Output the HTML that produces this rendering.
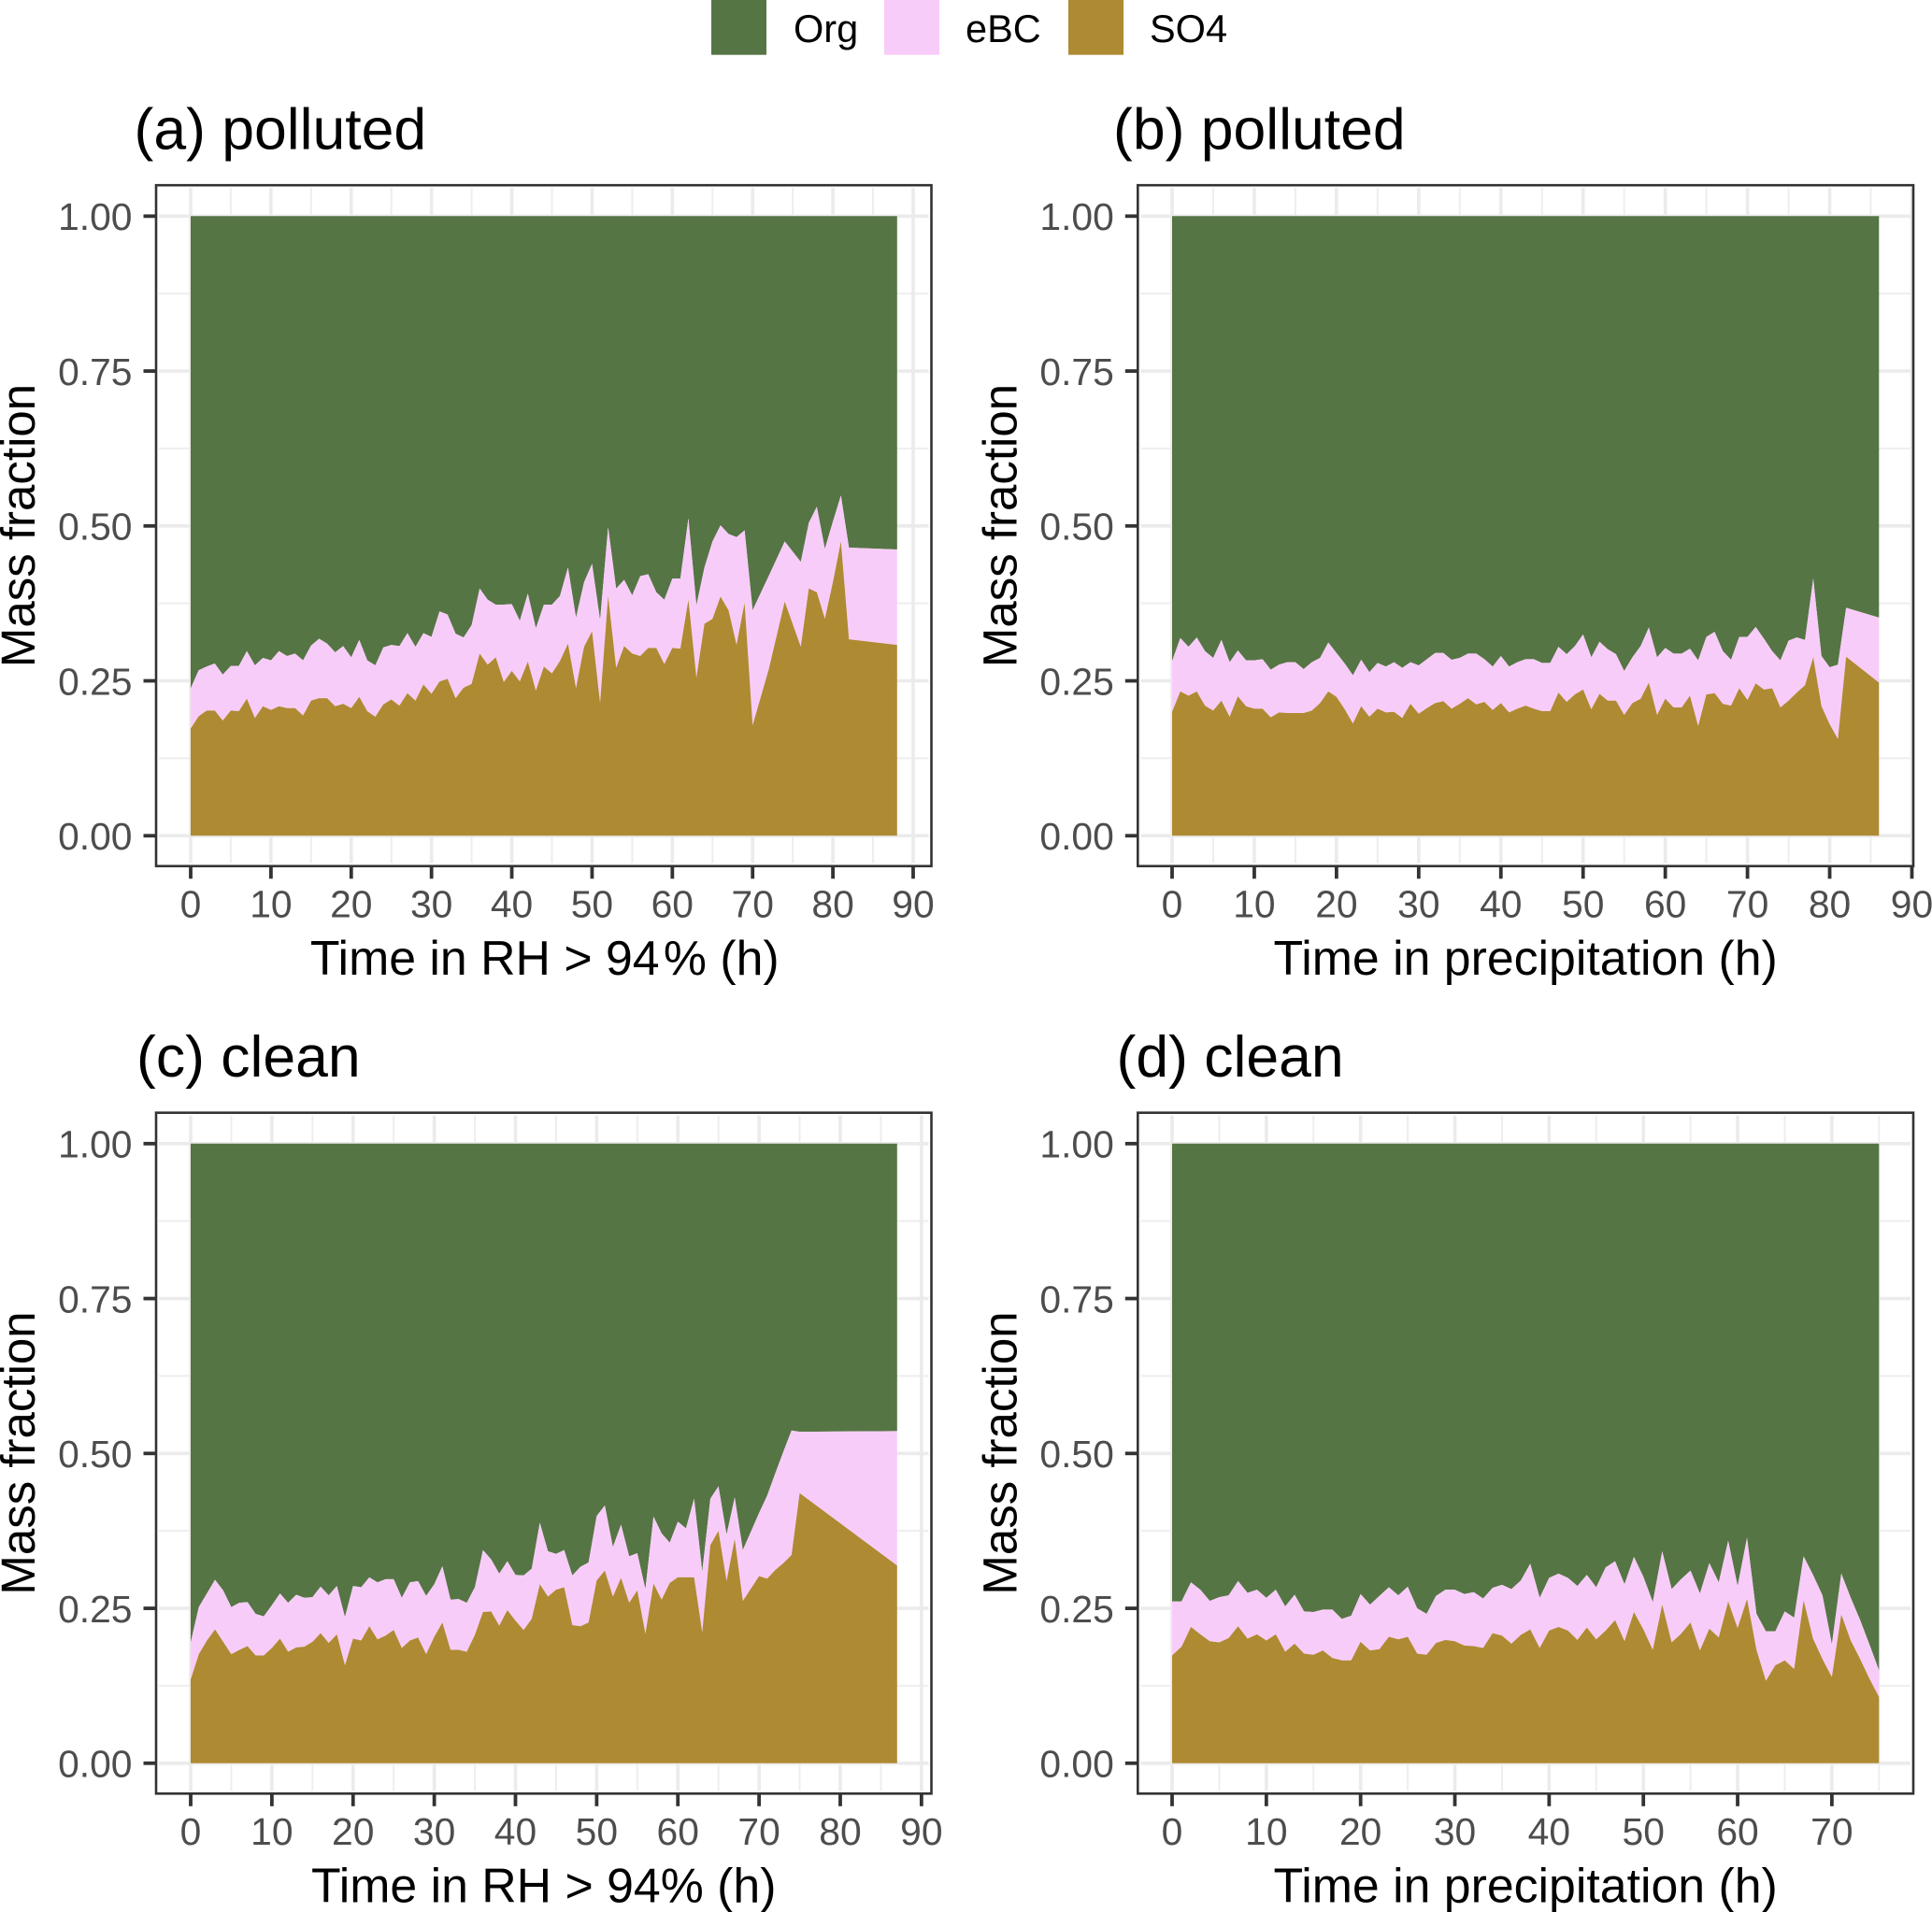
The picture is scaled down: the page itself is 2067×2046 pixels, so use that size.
<!DOCTYPE html>
<html>
<head>
<meta charset="utf-8">
<title>Mass fraction panels</title>
<style>
html,body{margin:0;padding:0;background:#fff;}
svg{display:block;}
text{font-family:"Liberation Sans",Arial,sans-serif;}
</style>
</head>
<body>
<svg id="chart" xmlns="http://www.w3.org/2000/svg" width="2067" height="2046" viewBox="0 0 2067 2046"></svg>
<script>
const yTickValues = [0, 0.25, 0.5, 0.75, 1];
const yTickLabels = ['0.00', '0.25', '0.50', '0.75', '1.00'];
const speciesNames = ['Org', 'eBC', 'SO4'];

const hoursA = [0,1,2,3,4,5,6,7,8,9,10,11,12,13,14,15,16,17,18,19,20,21,22,23,24,25,26,27,28,29,30,31,32,33,34,35,36,37,38,39,40,41,42,43,44,45,46,47,48,49,50,51,52,53,54,55,56,57,58,59,60,61,62,63,64,65,66,67,68,69,70,72,74,76,77,78,79,80,81,82,88];
const so4A = [.173,.193,.202,.202,.186,.202,.201,.221,.190,.209,.203,.209,.206,.206,.194,.218,.222,.222,.209,.213,.206,.224,.201,.192,.212,.220,.210,.230,.218,.244,.229,.249,.253,.222,.239,.245,.294,.276,.288,.248,.266,.249,.281,.234,.273,.262,.282,.310,.238,.305,.330,.214,.387,.271,.306,.294,.290,.303,.303,.277,.303,.302,.381,.255,.342,.350,.386,.364,.308,.376,.178,.268,.378,.305,.399,.393,.350,.409,.475,.317,.308];
const so4PlusEbcA = [.238,.267,.273,.278,.260,.274,.274,.298,.275,.287,.283,.298,.290,.294,.283,.307,.318,.310,.296,.306,.288,.316,.283,.275,.304,.308,.306,.327,.305,.327,.321,.362,.357,.326,.320,.340,.399,.381,.373,.373,.374,.347,.391,.335,.373,.373,.387,.433,.352,.409,.439,.348,.498,.399,.413,.388,.419,.422,.393,.381,.415,.415,.512,.372,.433,.475,.501,.487,.482,.493,.364,.419,.475,.442,.505,.531,.463,.507,.549,.465,.462];

const hoursB = [0,1,2,3,4,5,6,7,8,9,10,11,12,13,14,15,16,17,18,19,20,21,22,23,24,25,26,27,28,29,30,31,32,33,34,35,36,37,38,39,40,41,42,43,44,45,46,47,48,49,50,51,52,53,54,55,56,57,58,59,60,61,62,63,64,65,66,67,68,69,70,71,72,73,74,75,76,77,78,79,80,81,82,86];
const so4B = [.200,.233,.226,.233,.210,.202,.218,.192,.225,.209,.205,.205,.191,.199,.198,.198,.198,.202,.214,.233,.224,.204,.181,.209,.192,.205,.199,.200,.190,.213,.197,.206,.214,.217,.205,.213,.222,.212,.216,.203,.214,.199,.205,.210,.205,.201,.201,.231,.216,.228,.236,.204,.229,.218,.218,.195,.214,.221,.247,.195,.221,.207,.207,.226,.177,.228,.230,.213,.210,.238,.219,.246,.236,.238,.207,.218,.231,.243,.288,.209,.180,.156,.289,.247];
const so4PlusEbcB = [.282,.319,.305,.320,.298,.287,.316,.280,.299,.283,.283,.285,.268,.276,.280,.280,.269,.280,.287,.312,.295,.278,.259,.284,.264,.279,.273,.280,.271,.280,.275,.285,.295,.295,.284,.287,.294,.294,.285,.273,.290,.273,.280,.285,.285,.279,.279,.305,.293,.306,.325,.288,.313,.301,.293,.266,.288,.306,.336,.288,.303,.294,.294,.302,.283,.321,.329,.298,.284,.321,.321,.337,.318,.298,.283,.315,.320,.316,.415,.290,.272,.276,.368,.352];

const hoursC = [0,1,2,3,4,5,6,7,8,9,10,11,12,13,14,15,16,17,18,19,20,21,22,23,24,25,26,27,28,29,30,31,32,33,34,35,36,37,38,39,40,41,42,43,44,45,46,47,48,49,50,51,52,53,54,55,56,57,58,59,60,61,62,63,64,65,66,67,68,69,70,71,72,73,74,75,87];
const so4C = [.135,.176,.198,.216,.196,.176,.183,.189,.174,.174,.186,.201,.180,.187,.188,.196,.210,.194,.208,.158,.201,.198,.221,.200,.206,.215,.186,.198,.203,.176,.204,.227,.183,.183,.180,.207,.244,.245,.222,.247,.230,.215,.233,.289,.269,.280,.284,.223,.221,.227,.295,.311,.269,.299,.259,.279,.209,.290,.264,.291,.300,.300,.300,.211,.352,.375,.294,.362,.262,.282,.302,.298,.312,.323,.336,.436,.319];
const so4PlusEbcC = [.195,.252,.274,.296,.279,.252,.259,.260,.241,.237,.255,.274,.259,.272,.267,.268,.285,.271,.286,.236,.286,.284,.300,.292,.297,.297,.267,.292,.294,.270,.289,.318,.264,.265,.259,.284,.344,.329,.306,.326,.304,.303,.314,.388,.342,.338,.344,.303,.317,.324,.399,.416,.349,.385,.334,.339,.281,.398,.371,.356,.390,.379,.427,.309,.427,.447,.369,.429,.344,.374,.404,.432,.468,.503,.537,.535,.536];

const hoursD = [0,1,2,3,4,5,6,7,8,9,10,11,12,13,14,15,16,17,18,19,20,21,22,23,24,25,26,27,28,29,30,31,32,33,34,35,36,37,38,39,40,41,42,43,44,45,46,47,48,49,50,51,52,53,54,55,56,57,58,59,60,61,62,63,64,65,66,67,68,69,70,71,72,73,74,75];
const so4D = [.174,.188,.220,.208,.197,.195,.202,.221,.201,.208,.198,.208,.180,.193,.177,.175,.182,.170,.166,.166,.196,.182,.184,.204,.200,.204,.177,.175,.194,.199,.197,.190,.189,.186,.210,.206,.193,.207,.216,.186,.214,.220,.214,.199,.219,.200,.214,.231,.197,.244,.216,.183,.256,.195,.209,.227,.182,.217,.203,.261,.218,.265,.183,.133,.158,.166,.152,.263,.201,.168,.139,.240,.198,.168,.136,.107];
const so4PlusEbcD = [.261,.261,.292,.280,.262,.268,.271,.294,.275,.280,.267,.280,.253,.272,.245,.244,.248,.248,.233,.238,.273,.256,.270,.284,.271,.285,.250,.241,.270,.280,.280,.273,.276,.266,.283,.288,.281,.295,.322,.267,.299,.306,.299,.286,.304,.284,.316,.326,.289,.333,.301,.260,.342,.281,.297,.311,.274,.323,.292,.359,.286,.364,.241,.213,.213,.245,.235,.334,.304,.271,.192,.306,.267,.231,.191,.150];

const xTicksA = [0,10,20,30,40,50,60,70,80,90];
const xTicksB = [0,10,20,30,40,50,60,70,80,90];
const xTicksC = [0,10,20,30,40,50,60,70,80,90];
const xTicksD = [0,10,20,30,40,50,60,70];

const NS = 'http://www.w3.org/2000/svg';
const svg = document.getElementById('chart');
const COLORS = {Org:'#567545', eBC:'#f8ccf9', SO4:'#ae8a32'};

function mk(tag, attrs, parent, text) {
  const el = document.createElementNS(NS, tag);
  for (const k in attrs) el.setAttribute(k, attrs[k]);
  if (text !== undefined) el.textContent = text;
  parent.appendChild(el);
  return el;
}

function drawLegend() {
  const g = mk('g', {}, svg);
  
  
  const boxX = [761, 946, 1143];
  const textX = [849, 1033, 1230];
  speciesNames.forEach(function (name, i) {
    const r = mk('rect', {x: boxX[i], y: -2, width: 59, height: 60.7, fill: COLORS[name]}, g);
    
    
    const t = mk('text', {x: textX[i], y: 45, 'font-size': 41.5, fill: '#000'}, g, name);
    
    
  });
}

function drawPanel(p) {
  const dataLeft = p.dataLeft, dataRight = p.dataRight;
  const base = p.base, span = 663;
  const maxHour = p.hours[p.hours.length - 1];
  const x = function (h) { return dataLeft + (h / maxHour) * (dataRight - dataLeft); };
  const y = function (v) { return base - v * span; };
  const top = base - 696.1, bottom = base + 32.5;

  const g = mk('g', {}, svg);
  
  

  // grid
  const gg = mk('g', {}, g);
  
  
  const inL = p.left + 3, inR = p.right - 3, inT = top + 3, inB = bottom - 3;
  for (let i = 0; i < yTickValues.length - 1; i++) {
    const ym = y((yTickValues[i] + yTickValues[i + 1]) / 2);
    mk('line', {x1: inL, x2: inR, y1: ym, y2: ym, stroke: '#eeeeee', 'stroke-width': 2}, gg);
  }
  const minorEnd = p.ticks[p.ticks.length - 1];
  for (let h = 5; h <= minorEnd + 5; h += 10) {
    const xm = x(h);
    if (xm < inR) mk('line', {x1: xm, x2: xm, y1: inT, y2: inB, stroke: '#eeeeee', 'stroke-width': 2}, gg);
  }
  yTickValues.forEach(function (v) {
    mk('line', {x1: inL, x2: inR, y1: y(v), y2: y(v), stroke: '#ebebeb', 'stroke-width': 3.6}, gg);
  });
  p.ticks.forEach(function (h) {
    mk('line', {x1: x(h), x2: x(h), y1: inT, y2: inB, stroke: '#ebebeb', 'stroke-width': 3.6}, gg);
  });

  // stacked areas
  const lineThrough = function (vals) {
    return p.hours.map(function (h, i) { return x(h).toFixed(2) + ',' + y(vals[i]).toFixed(2); });
  };
  const upper = lineThrough(p.so4PlusEbc);
  const lower = lineThrough(p.so4);
  const orgD = 'M' + x(0) + ',' + y(1) + ' L' + x(maxHour) + ',' + y(1) + ' L' + upper.slice().reverse().join(' L') + ' Z';
  const ebcD = 'M' + upper.join(' L') + ' L' + lower.slice().reverse().join(' L') + ' Z';
  const so4D_ = 'M' + lower.join(' L') + ' L' + x(maxHour) + ',' + y(0) + ' L' + x(0) + ',' + y(0) + ' Z';
  const orgArea = mk('path', {d: orgD, fill: COLORS.Org}, g);
  
  
  const ebcArea = mk('path', {d: ebcD, fill: COLORS.eBC}, g);
  
  
  const so4Area = mk('path', {d: so4D_, fill: COLORS.SO4}, g);
  
  

  // border
  const border = mk('rect', {x: p.left, y: top, width: p.right - p.left, height: bottom - top, fill: 'none', stroke: '#333333', 'stroke-width': 2.6}, g);
  
  

  // y axis
  const yAxis = mk('g', {}, g);
  
  
  yTickValues.forEach(function (v, i) {
    const tick = mk('line', {x1: p.left - 13.5, x2: p.left, y1: y(v), y2: y(v), stroke: '#333333', 'stroke-width': 3.8}, yAxis);
    
    
    const lab = mk('text', {x: p.left - 25.5, y: y(v) + 14.8, 'font-size': 40.8, fill: '#4d4d4d', 'text-anchor': 'end'}, yAxis, yTickLabels[i]);
    
    
  });
  const yTitleX = p.left - 130;
  const yTitleY = (top + bottom) / 2;
  const yTitle = mk('text', {x: yTitleX, y: yTitleY, 'font-size': 51, fill: '#000', 'text-anchor': 'middle', transform: 'rotate(-90 ' + yTitleX + ' ' + yTitleY + ')'}, yAxis, 'Mass fraction');
  
  

  // x axis
  const xAxis = mk('g', {}, g);
  
  
  p.ticks.forEach(function (h) {
    const tick = mk('line', {x1: x(h), x2: x(h), y1: bottom, y2: bottom + 13.5, stroke: '#333333', 'stroke-width': 3.8}, xAxis);
    
    
    const lab = mk('text', {x: x(h), y: bottom + 54.5, 'font-size': 40.8, fill: '#4d4d4d', 'text-anchor': 'middle'}, xAxis, String(h));
    
    
  });
  const xTitle = mk('text', {x: (p.left + p.right) / 2 + p.xTitleShift, y: bottom + 116, 'font-size': 51.8, fill: '#000', 'text-anchor': 'middle'}, xAxis, p.xTitle);
  
  

  // title
  const title = mk('text', {x: p.titleX, y: base - 735, 'font-size': 62.5, fill: '#000'}, g, p.title);
  
  
}

drawLegend();
drawPanel({id:'a', title:'(a) polluted', titleX:143.5, xTitle:'Time in RH > 94\u200A% (h)', xTitleShift:1, hours:hoursA, so4:so4A, so4PlusEbc:so4PlusEbcA, ticks:xTicksA, left:167, right:996.5, dataLeft:204, dataRight:959.8, base:894.3});
drawPanel({id:'b', title:'(b) polluted', titleX:1191, xTitle:'Time in precipitation (h)', xTitleShift:0, hours:hoursB, so4:so4B, so4PlusEbc:so4PlusEbcB, ticks:xTicksB, left:1217.3, right:2047, dataLeft:1254, dataRight:2010.3, base:894.3});
drawPanel({id:'c', title:'(c) clean', titleX:146, xTitle:'Time in RH > 94% (h)', xTitleShift:0, hours:hoursC, so4:so4C, so4PlusEbc:so4PlusEbcC, ticks:xTicksC, left:167, right:996.5, dataLeft:204, dataRight:959.8, base:1886.8});
drawPanel({id:'d', title:'(d) clean', titleX:1194.5, xTitle:'Time in precipitation (h)', xTitleShift:0, hours:hoursD, so4:so4D, so4PlusEbc:so4PlusEbcD, ticks:xTicksD, left:1217.3, right:2047, dataLeft:1254, dataRight:2010.3, base:1886.8});
</script>
</body>
</html>
